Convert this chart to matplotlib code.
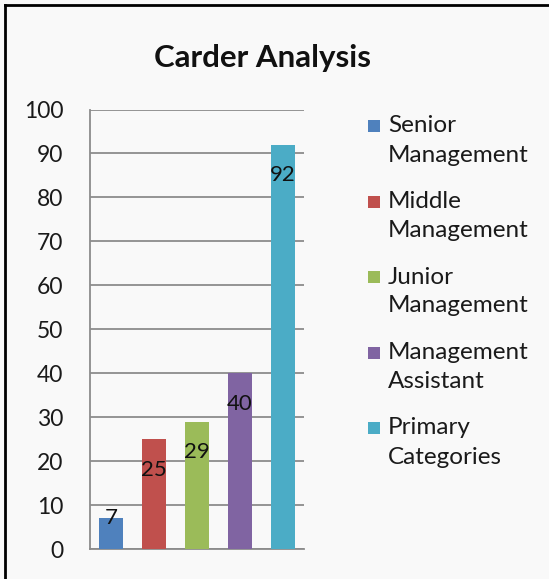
import matplotlib.pyplot as plt
from matplotlib.patches import Rectangle
from matplotlib.lines import Line2D

plt.rcParams['font.family'] = ['Lato', 'DejaVu Sans']

categories = ['Senior\nManagement', 'Middle\nManagement', 'Junior\nManagement',
              'Management\nAssistant', 'Primary\nCategories']
values = [7, 25, 29, 40, 92]
colors = ['#4F81BD', '#C0504D', '#9BBB59', '#8064A2', '#4BACC6']
yticks = [0, 10, 20, 30, 40, 50, 60, 70, 80, 90, 100]

bg = '#f9f9f9'
fig = plt.figure(figsize=(5.49, 5.79), dpi=100, facecolor=bg)
ax = fig.add_axes([0.1639, 0.0518, 0.3898, 0.759])
ax.set_facecolor(bg)

x = range(len(values))
ax.bar(x, values, width=0.56, color=colors, zorder=3)

for i, v in enumerate(values):
    ypos = v - 7 if v > 14 else v
    ax.text(i, ypos, str(v), ha='center', va='center', fontsize=16,
            color='#111111', zorder=4)

ax.set_xlim(-0.5, 4.5)
ax.set_ylim(0, 100)
ax.set_yticks(yticks)
ax.set_xticks([])
ax.tick_params(axis='y', length=0, pad=19, labelsize=16.5, labelcolor='#1a1a1a')
ax.grid(axis='y', color='#8c8c8c', linewidth=1.3, zorder=0)
for s in ['top', 'right']:
    ax.spines[s].set_visible(False)
for s in ['left', 'bottom']:
    ax.spines[s].set_color('#8c8c8c')
    ax.spines[s].set_linewidth(1.3)

fig.text(262 / 549, 1 - 58 / 579, 'Carder Analysis', ha='center', va='center',
         fontsize=22.5, fontweight='bold', color='#111111')

# legend, drawn by hand so the swatch sits next to the first line
W, H = 549, 579
top0 = 126
step = 75.5
for i, (lab, c) in enumerate(zip(categories, colors)):
    yc = top0 + i * step
    fig.patches.append(Rectangle((368 / W, 1 - (yc + 6) / H), 12 / W, 12 / H,
                                 transform=fig.transFigure, facecolor=c,
                                 edgecolor='none'))
    first, second = lab.split('\n')
    fig.text(388 / W, 1 - yc / H, first, ha='left', va='center', fontsize=17.5,
             color='#1a1a1a')
    fig.text(388 / W, 1 - (yc + 29) / H, second, ha='left', va='center',
             fontsize=17.5, color='#1a1a1a')

# frame lines at top and left of the picture
fig.add_artist(Line2D([5 / W, 1], [1 - 5 / H, 1 - 5 / H], color='black',
                      linewidth=2, transform=fig.transFigure))
fig.add_artist(Line2D([5 / W, 5 / W], [0, 1 - 5 / H], color='black',
                      linewidth=2, transform=fig.transFigure))

fig.savefig('out.png', dpi=100, facecolor=bg)
